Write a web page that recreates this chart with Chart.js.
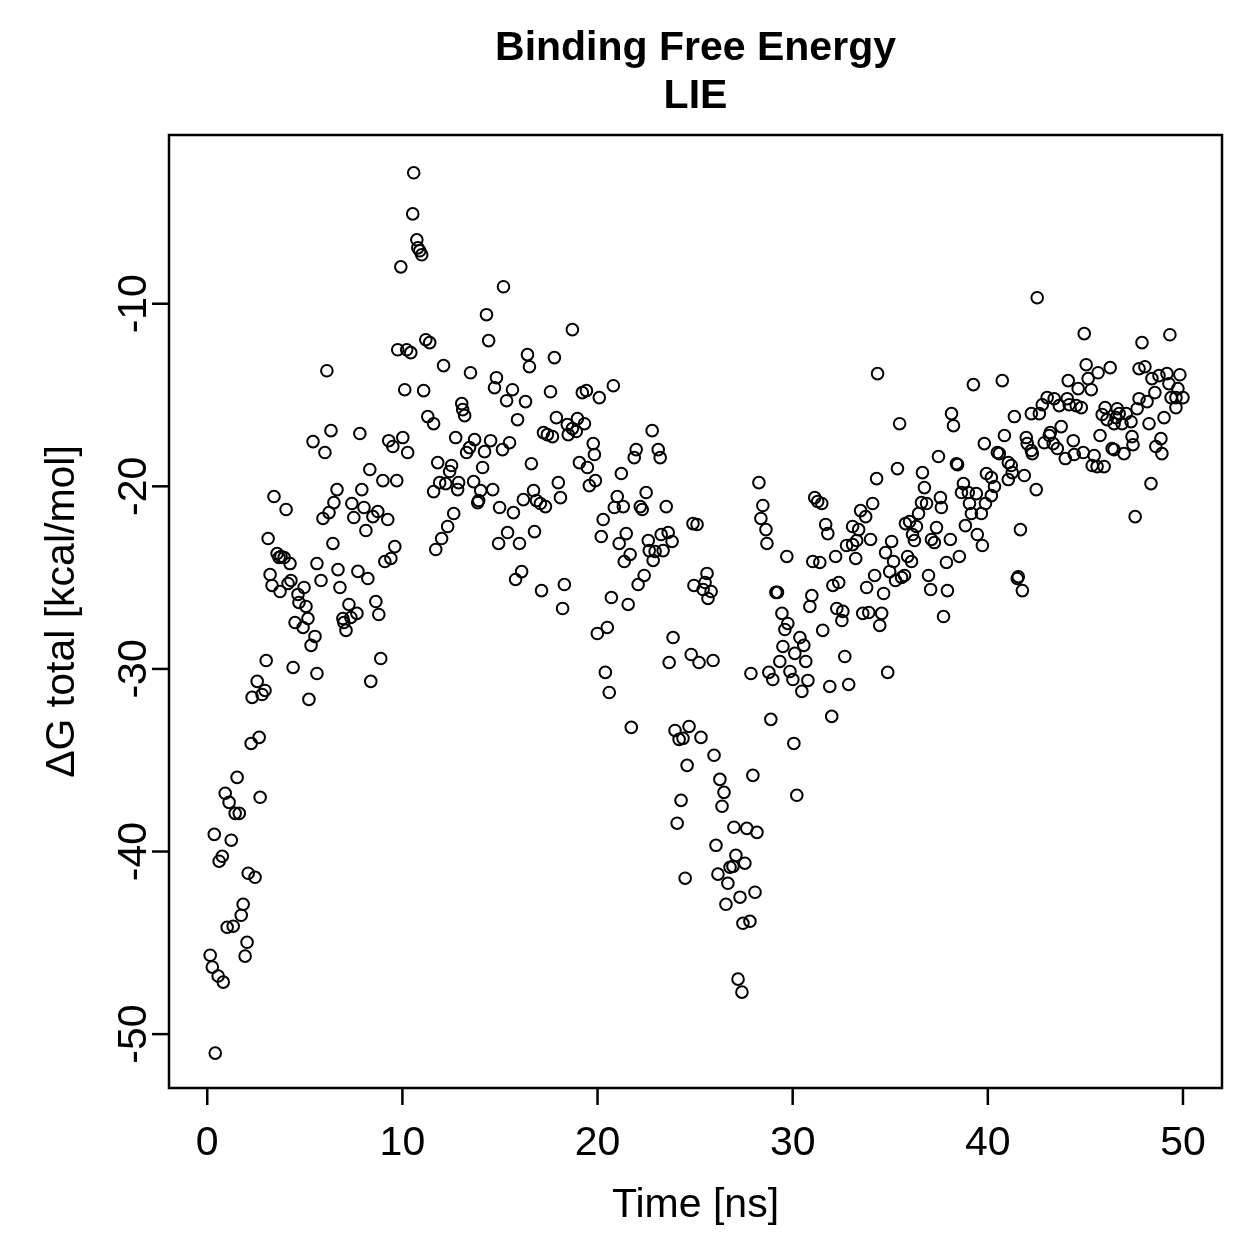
<!DOCTYPE html>
<html>
<head>
<meta charset="utf-8">
<title>Binding Free Energy - LIE</title>
<script src="https://cdn.jsdelivr.net/npm/chart.js@4.4.1/dist/chart.umd.min.js"></script>
<style>
    body { margin: 0; background: #fff; }
    #wrap { width: 1259px; height: 1259px; }
</style>
</head>
<body>
<div id="wrap"><canvas id="lieChart" width="1259" height="1259"></canvas></div>
<script>
// =====================
// DATA SECTION
// =====================

// simulation time [ns]
var timeNs = [
    3.02, 4.40, 5.62, 2.56, 2.96, 2.30, 2.81, 5.21, 2.66, 2.25, 1.53, 0.92, 1.12, 2.71, 1.43, 1.64, 0.36, 1.23, 0.77, 0.61,
    2.10, 2.45, 1.84, 1.74, 1.02, 1.33, 2.04, 1.94, 0.15, 0.26, 0.56, 0.82, 0.41, 3.42, 4.04, 3.12, 3.58, 3.78, 3.94, 3.68,
    4.24, 3.22, 3.32, 3.73, 4.29, 4.14, 4.65, 4.50, 4.70, 6.34, 7.82, 5.42, 9.30, 10.02, 9.51, 6.03, 10.27, 8.33, 9.00, 9.71,
    6.65, 7.92, 6.49, 7.41, 8.03, 6.24, 5.93, 7.51, 8.74, 8.49, 9.25, 8.13, 6.44, 9.61, 9.41, 9.10, 5.62, 6.70, 7.72, 8.23,
    5.83, 4.96, 6.80, 5.06, 7.26, 8.64, 8.79, 7.67, 7.36, 6.95, 7.00, 7.11, 5.16, 4.91, 5.52, 5.32, 8.89, 8.38, 10.58, 10.53,
    10.74, 10.79, 10.89, 10.99, 9.92, 6.13, 9.76, 10.22, 10.43, 11.20, 11.40, 10.12, 11.09, 11.30, 15.18, 14.31, 14.42, 18.71, 16.41, 16.51,
    17.79, 12.11, 13.49, 14.82, 14.72, 15.64, 15.34, 16.31, 17.59, 19.22, 19.43, 13.04, 13.09, 13.19, 11.60, 15.90, 17.89, 18.45, 18.97, 19.33,
    18.71, 18.91, 18.50, 17.23, 17.43, 17.69, 12.73, 13.70, 14.52, 15.49, 13.44, 13.29, 14.21, 15.13, 11.81, 12.52, 12.42, 14.11, 16.61, 19.07,
    19.48, 19.58, 11.91, 12.22, 12.88, 12.83, 11.60, 13.65, 14.01, 14.63, 13.86, 13.91, 14.98, 15.69, 16.20, 16.72, 16.87, 17.07, 17.33, 17.99,
    18.10, 12.63, 12.32, 12.01, 11.71, 15.39, 14.93, 16.00, 16.77, 16.11, 15.80, 17.13, 18.30, 18.21, 20.09, 20.81, 22.80, 19.78, 19.84, 19.89,
    21.22, 21.98, 21.88, 23.11, 23.21, 21.01, 20.86, 21.32, 22.49, 22.19, 22.29, 23.52, 20.29, 20.19, 21.47, 21.11, 21.67, 21.37, 22.60, 22.65,
    22.95, 22.85, 23.36, 23.26, 23.62, 23.82, 24.89, 25.10, 22.39, 22.08, 20.71, 21.57, 20.50, 25.61, 25.51, 24.94, 25.41, 25.82, 25.66, 28.27,
    28.47, 28.37, 28.63, 28.68, 29.14, 29.22, 19.99, 20.40, 20.60, 21.73, 23.87, 24.80, 25.20, 25.92, 23.67, 27.86, 28.78, 28.98, 28.88, 30.06,
    30.21, 24.69, 23.97, 24.18, 24.38, 25.30, 25.97, 24.59, 26.27, 26.48, 26.38, 27.96, 24.28, 24.08, 26.99, 27.65, 28.17, 26.07, 27.09, 27.55,
    26.79, 26.94, 26.17, 26.68, 28.07, 27.30, 26.58, 24.49, 27.45, 27.81, 27.20, 27.40, 34.35, 39.26, 35.48, 38.14, 38.24, 37.47, 38.39, 38.45,
    35.37, 34.30, 36.65, 36.75, 36.60, 36.86, 37.57, 37.62, 36.45, 38.75, 38.65, 39.00, 39.41, 39.06, 39.16, 31.13, 31.28, 31.49, 34.10, 33.48,
    33.74, 31.69, 31.80, 33.07, 33.38, 35.78, 35.99, 36.34, 36.14, 36.24, 37.37, 37.11, 37.26, 38.08, 38.85, 39.46, 33.99, 33.28, 33.07, 32.76,
    35.07, 34.76, 29.70, 31.03, 31.39, 32.20, 33.23, 35.17, 35.89, 36.09, 37.88, 38.54, 34.97, 35.27, 35.58, 35.73, 34.20, 33.79, 34.66, 36.96,
    37.07, 37.93, 32.06, 32.36, 30.98, 30.88, 32.26, 32.57, 32.52, 33.59, 33.90, 34.56, 34.46, 37.73, 29.45, 29.75, 29.60, 31.54, 30.37, 30.57,
    29.50, 30.11, 30.67, 29.34, 32.67, 34.87, 29.86, 30.01, 30.78, 30.47, 31.90, 32.87, 32.00, 42.53, 44.94, 47.90, 49.33, 40.74, 45.04, 45.65,
    46.27, 44.12, 45.14, 44.63, 45.30, 47.75, 48.05, 48.41, 48.77, 49.18, 49.84, 49.28, 49.74, 48.56, 49.39, 49.64, 50.00, 49.64, 47.75, 48.16,
    47.65, 49.03, 48.26, 43.04, 43.40, 42.79, 43.66, 44.07, 44.17, 44.53, 44.79, 42.23, 42.64, 41.36, 46.01, 45.86, 46.11, 46.63, 46.57, 46.73,
    47.09, 46.88, 46.47, 47.34, 43.76, 43.20, 43.15, 40.85, 41.97, 42.02, 42.23, 42.28, 42.89, 43.35, 43.56, 44.38, 43.97, 44.43, 44.89, 45.45,
    45.35, 45.60, 45.96, 45.75, 46.37, 46.47, 46.98, 47.39, 47.44, 48.87, 48.61, 48.92, 39.82, 40.49, 40.59, 41.05, 41.20, 41.25, 41.87, 41.05,
    39.93, 40.18, 40.34, 40.18, 39.88, 39.67, 42.48, 48.36, 47.55, 41.67, 39.72, 41.51, 41.56, 41.77
];

// delta G total [kcal/mol]
var dGTotal = [
    -29.54, -29.92, -30.25, -30.68, -31.18, -31.56, -31.40, -31.67, -33.75, -34.08, -35.94, -36.81, -37.31, -37.03, -37.91, -37.91, -39.06, -39.38, -40.26, -40.53,
    -41.19, -41.41, -42.89, -43.49, -44.15, -44.09, -44.97, -45.73, -45.68, -46.33, -46.82, -47.15, -51.04, -20.56, -21.27, -22.86, -23.68, -23.84, -23.90, -23.90,
    -24.23, -24.83, -25.43, -25.76, -25.16, -25.32, -25.92, -27.46, -26.36, -16.95, -17.11, -17.55, -17.50, -17.33, -17.82, -18.15, -18.15, -19.08, -19.69, -19.69,
    -20.18, -20.18, -20.89, -20.94, -21.16, -21.44, -21.76, -21.71, -21.38, -21.66, -21.82, -22.42, -23.13, -23.30, -23.95, -24.12, -24.23, -24.56, -24.66, -25.05,
    -25.16, -25.54, -25.54, -26.58, -26.47, -26.31, -27.02, -26.96, -27.18, -27.24, -27.46, -27.89, -27.24, -27.73, -28.22, -28.71, -29.43, -30.68, -2.83, -5.08,
    -6.50, -6.94, -7.10, -7.32, -7.98, -13.67, -12.52, -12.52, -12.68, -11.97, -12.13, -14.71, -14.76, -16.18, -9.07, -10.60, -12.02, -11.42, -12.79, -13.45,
    -12.95, -13.39, -13.78, -14.05, -14.60, -14.71, -15.31, -15.36, -14.82, -14.87, -14.76, -15.47, -15.80, -16.13, -16.57, -16.35, -16.24, -16.62, -16.29, -16.57,
    -16.84, -17.00, -17.17, -17.06, -17.17, -17.28, -17.33, -17.44, -17.50, -17.61, -17.88, -18.15, -18.10, -17.99, -18.70, -18.86, -19.19, -18.97, -18.76, -18.70,
    -18.97, -19.96, -19.80, -19.85, -19.80, -20.18, -20.29, -19.74, -20.23, -20.18, -20.89, -20.78, -21.16, -21.44, -20.73, -20.23, -20.78, -20.94, -21.11, -19.80,
    -20.62, -21.49, -22.20, -22.86, -23.46, -22.53, -23.13, -23.13, -22.48, -24.67, -25.10, -25.71, -25.38, -26.69, -15.14, -14.49, -16.95, -17.66, -18.26, -19.69,
    -19.30, -17.99, -18.43, -17.99, -18.43, -20.56, -21.16, -21.11, -20.34, -21.11, -21.27, -21.11, -21.82, -22.75, -22.59, -23.13, -23.73, -24.12, -22.97, -23.52,
    -23.57, -24.06, -23.52, -22.64, -22.53, -23.02, -22.04, -22.09, -24.88, -25.38, -26.09, -26.47, -27.73, -24.77, -25.27, -25.43, -25.65, -25.76, -26.14, -19.80,
    -21.05, -21.76, -22.37, -23.13, -25.81, -25.81, -28.06, -30.19, -31.29, -33.20, -28.28, -29.21, -29.65, -29.54, -29.65, -30.25, -30.19, -30.58, -32.76, -34.08,
    -36.92, -33.15, -33.37, -33.86, -33.80, -33.75, -34.73, -35.28, -36.05, -36.76, -37.52, -35.83, -37.20, -38.45, -38.67, -38.73, -38.95, -39.66, -40.21, -40.64,
    -40.86, -40.81, -41.24, -41.74, -42.23, -42.50, -42.89, -41.46, -43.93, -43.82, -46.99, -47.70, -13.83, -14.43, -16.57, -16.02, -16.68, -18.37, -18.76, -18.81,
    -19.03, -19.58, -19.25, -20.07, -20.89, -20.94, -20.62, -21.16, -21.49, -19.85, -20.34, -20.34, -20.40, -20.94, -21.49, -20.62, -20.83, -20.94, -20.94, -21.33,
    -21.66, -22.09, -22.59, -22.20, -22.37, -22.04, -21.93, -22.20, -22.64, -22.97, -22.26, -22.91, -23.08, -22.91, -22.15, -22.64, -22.91, -22.97, -23.19, -23.24,
    -23.02, -23.63, -23.84, -24.12, -24.17, -23.84, -23.95, -24.12, -23.84, -24.12, -24.17, -23.84, -24.67, -25.16, -24.99, -24.88, -24.88, -25.54, -25.87, -24.88,
    -25.65, -25.71, -25.43, -25.27, -25.98, -26.58, -26.69, -26.85, -27.35, -26.96, -26.91, -26.96, -27.62, -27.13, -26.96, -27.51, -27.84, -27.89, -28.28, -28.71,
    -28.77, -29.15, -29.59, -29.59, -29.32, -30.19, -30.14, -30.58, -30.63, -31.23, -30.96, -30.85, -32.60, -9.67, -11.64, -12.13, -11.70, -14.21, -13.34, -13.78,
    -13.50, -14.21, -14.10, -14.65, -14.71, -13.56, -13.45, -14.10, -13.94, -13.83, -13.89, -14.38, -14.65, -14.87, -15.14, -15.14, -15.14, -15.69, -15.20, -15.36,
    -15.75, -16.24, -16.57, -15.14, -15.20, -15.53, -15.58, -15.20, -15.53, -15.58, -15.69, -16.02, -16.02, -16.18, -15.69, -16.07, -16.35, -15.75, -16.24, -16.02,
    -16.02, -16.57, -16.57, -16.46, -16.73, -17.06, -17.22, -17.22, -17.33, -17.66, -18.04, -18.21, -17.61, -17.66, -17.93, -17.50, -18.48, -18.26, -18.15, -18.32,
    -18.86, -18.92, -18.92, -17.22, -17.93, -17.99, -18.21, -17.28, -17.72, -17.39, -17.82, -18.21, -17.66, -18.15, -18.21, -18.70, -18.86, -19.25, -19.41, -19.63,
    -19.30, -19.52, -20.01, -20.51, -20.94, -21.49, -20.18, -19.85, -21.66, -22.37, -23.24, -25.05, -24.95, -25.71
];

// axis ticks and labels
var xTicks = [0, 10, 20, 30, 40, 50];
var yTicks = [-50, -40, -30, -20, -10];
var titleLines = ["Binding Free Energy", "LIE"];
var xTitle = "Time [ns]";
var yTitle = "\u0394G total [kcal/mol]";

// =====================
// CHART SECTION
// =====================

var points = timeNs.map(function (t, i) {
    return { x: t, y: dGTotal[i] };
});

var FONT = '"Liberation Sans", Arial, Helvetica, sans-serif';

// draws the R style box, ticks and text round the plot
var baseAxes = {
    id: "baseAxes",
    afterDraw: function (chart) {
        var ctx = chart.ctx;
        var area = chart.chartArea;
        var xs = chart.scales.x;
        var ys = chart.scales.y;

        ctx.save();
        ctx.strokeStyle = "#000";
        ctx.fillStyle = "#000";
        ctx.lineWidth = 2.5;

        // box
        ctx.strokeRect(area.left, area.top, area.right - area.left, area.bottom - area.top);

        // x ticks
        ctx.font = "41px " + FONT;
        ctx.textAlign = "center";
        ctx.textBaseline = "alphabetic";
        xTicks.forEach(function (v) {
            var px = xs.getPixelForValue(v);
            ctx.beginPath();
            ctx.moveTo(px, area.bottom);
            ctx.lineTo(px, area.bottom + 17);
            ctx.stroke();
            ctx.fillText(String(v), px, 1155);
        });

        // y ticks, labels turned like R's las=0
        yTicks.forEach(function (v) {
            var py = ys.getPixelForValue(v);
            ctx.beginPath();
            ctx.moveTo(area.left, py);
            ctx.lineTo(area.left - 17, py);
            ctx.stroke();
            ctx.save();
            ctx.translate(146, py);
            ctx.rotate(-Math.PI / 2);
            ctx.fillText(String(v), 0, 0);
            ctx.restore();
        });

        // axis titles
        var midX = (area.left + area.right) / 2;
        var midY = (area.top + area.bottom) / 2;
        ctx.fillText(xTitle, midX, 1217);
        ctx.save();
        ctx.translate(74, midY);
        ctx.rotate(-Math.PI / 2);
        ctx.fillText(yTitle, 0, 0);
        ctx.restore();

        // main title
        ctx.font = "bold 41px " + FONT;
        ctx.fillText(titleLines[0], midX, 60);
        ctx.fillText(titleLines[1], midX, 108);

        ctx.restore();
    }
};

var ctx = document.getElementById("lieChart");

var lieChart = new Chart(ctx, {
    type: "scatter",
    data: {
        datasets: [{
            label: "LIE",
            data: points,
            showLine: false,
            pointStyle: "circle",
            pointRadius: 5.8,
            pointHoverRadius: 5.8,
            pointBorderWidth: 2,
            pointBackgroundColor: "rgba(0,0,0,0)",
            pointBorderColor: "#000"
        }]
    },
    options: {
        responsive: false,
        animation: false,
        devicePixelRatio: 1,
        layout: {
            padding: { left: 169, top: 135, right: 37, bottom: 171 }
        },
        plugins: {
            legend: { display: false },
            tooltip: { enabled: false },
            title: { display: false }
        },
        scales: {
            x: { type: "linear", min: -1.96, max: 52, display: false },
            y: { type: "linear", min: -52.95, max: -0.76, display: false }
        }
    },
    plugins: [baseAxes]
});
</script>
</body>
</html>
